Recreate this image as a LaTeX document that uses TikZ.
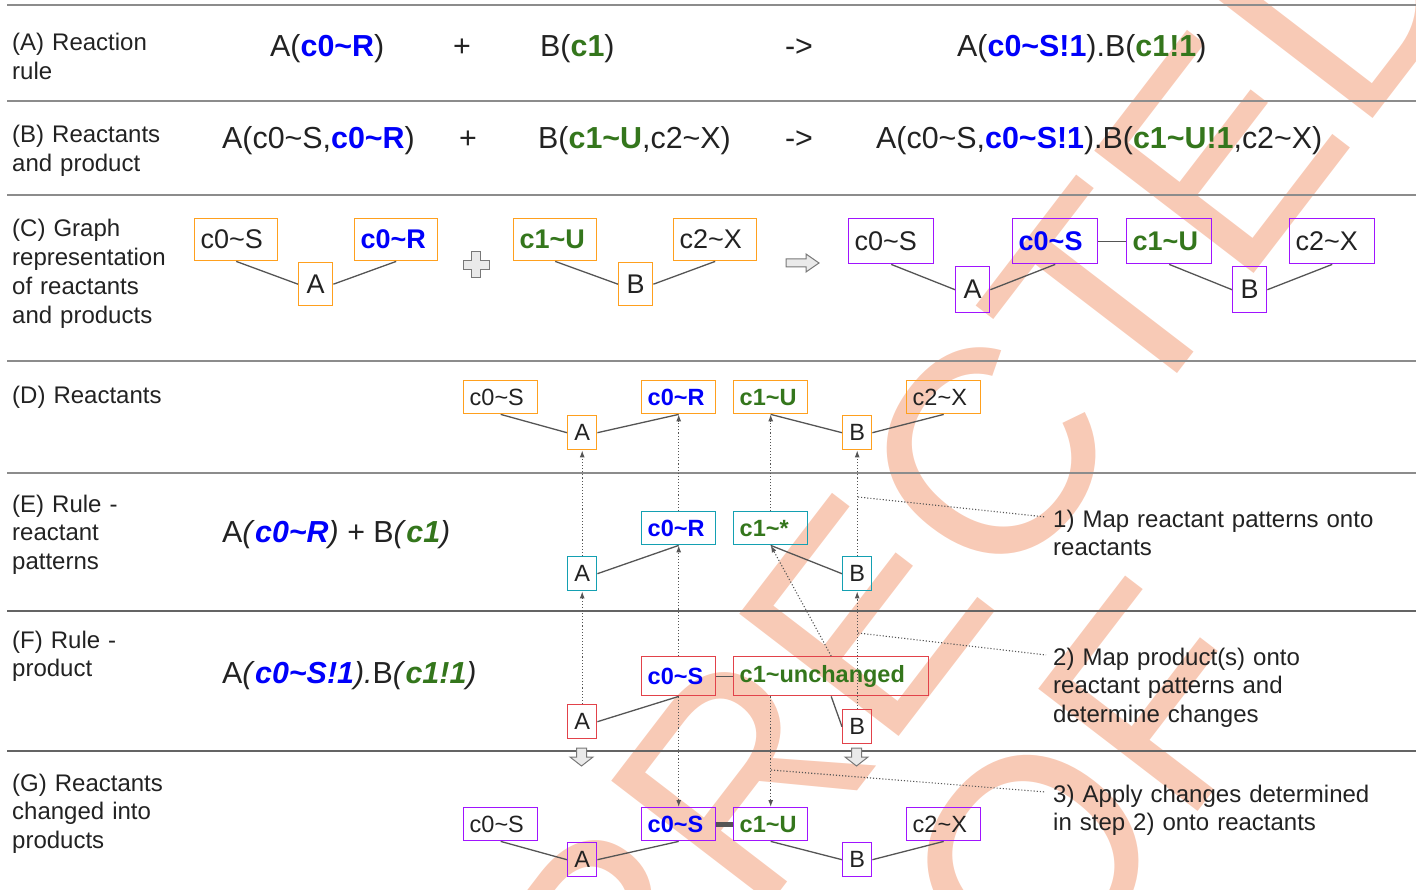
\documentclass[tikz,border=0pt]{standalone}
\usepackage{fontspec}
\setmainfont{Liberation Sans}
\usetikzlibrary{arrows.meta,calc}

\definecolor{ink}{RGB}{34,34,34}
\definecolor{rulelt}{RGB}{140,140,140}
\definecolor{ruledk}{RGB}{100,100,100}
\definecolor{link}{RGB}{85,85,85}
\definecolor{cblue}{RGB}{0,0,250}
\definecolor{cgreen}{RGB}{52,118,28}
\definecolor{borange}{RGB}{255,160,30}
\definecolor{bteal}{RGB}{20,160,178}
\definecolor{bred}{RGB}{226,66,74}
\definecolor{bpurple}{RGB}{160,20,255}
\definecolor{stamp}{RGB}{248,202,182}
\definecolor{shapefill}{RGB}{234,234,234}
\definecolor{shapeline}{RGB}{120,120,120}

\newcommand{\tld}{\textasciitilde}
\newcommand{\blu}[1]{\textcolor{cblue}{\bfseries #1}}
\newcommand{\grn}[1]{\textcolor{cgreen}{\bfseries #1}}
\newcommand{\bluit}[1]{\textcolor{cblue}{\bfseries\itshape #1}}
\newcommand{\grnit}[1]{\textcolor{cgreen}{\bfseries\itshape #1}}

\tikzset{
  lbl/.style={anchor=base west, inner sep=0pt, text width=300pt, align=left, text=ink,
              font=\fontsize{24}{28.7}\selectfont},
  formula/.style={anchor=base west, inner sep=0pt, text=ink, font=\fontsize{30.4}{36}\selectfont},
  op/.style={anchor=base, inner sep=0pt, text=ink, font=\fontsize{30.4}{36}\selectfont},
  comp/.style n args={3}{draw=#1, line width=1.4pt, anchor=north west,
       minimum height=#3, inner xsep=6pt, inner ysep=0pt, text width=#2pt-12pt,
       align=left, text=ink},
  mol/.style n args={3}{draw=#1, line width=1.4pt, anchor=north west,
       minimum width=#2, minimum height=#3, inner sep=0pt, text=ink},
  big/.style={font=\fontsize{27}{32}\selectfont},
  small/.style={font=\fontsize{23.5}{28}\selectfont},
  bond/.style={draw=link, line width=1.3pt},
  map/.style={draw=link, line width=1.1pt, dotted, -{Latex[length=7pt,width=5pt]}},
  callout/.style={draw=link, line width=1.1pt, dotted},
  hollow/.style={fill=shapefill, draw=shapeline, line width=1pt, line join=miter},
  sep/.style={line width=2pt},
  wm/.style={text=stamp, inner sep=0pt, rotate=52.5, font=\fontsize{292}{292}\selectfont},
  downblk/.pic={\draw[hollow] (-5,0) -- (5,0) -- (5,9) -- (11.5,9) -- (0,18) -- (-11.5,9) -- (-5,9) -- cycle;}
}

\begin{document}
\begin{tikzpicture}[x=1pt,y=-1pt]
\useasboundingbox (0,0) rectangle (1416,890);

% proof stamp behind everything
\begin{scope}
  \clip (0,0) rectangle (1416,890);
  \node[wm] (stampA) at (716,810) {UNCORRECTED};
  \node[wm] (stampB) at (896,1040) {PROOF};
\end{scope}

% row separators
\foreach \yy/\cc in {5/rulelt,101/rulelt,195/rulelt,361/rulelt,473/rulelt,611/ruledk,751/ruledk}
  \draw[sep, draw=\cc] (7,\yy) -- (1416,\yy);

% row captions
\node[lbl] (labA) at (12,51) {(A) Reaction\\rule};
\node[lbl] (labB) at (12,143) {(B) Reactants\\and product};
\node[lbl] (labC) at (12,237) {(C) Graph\\representation\\of reactants\\and products};
\node[lbl] (labD) at (12,403) {(D) Reactants};
\node[lbl] (labE) at (12,512) {(E) Rule -\\reactant\\patterns};
\node[lbl] (labF) at (12,648) {(F) Rule -\\product};
\node[lbl] (labG) at (12,791) {(G) Reactants\\changed into\\products};

% (A) reaction rule
\node[formula] (a1) at (270,57) {A(\blu{c0\tld R})};
\node[op] (a2) at (462,57) {+};
\node[formula] (a3) at (540,57) {B(\grn{c1})};
\node[op] (a4) at (799,57) {->};
\node[formula] (a5) at (957,57) {A(\blu{c0\tld S!1}).B(\grn{c1!1})};

% (B) reactants and product
\node[formula] (b1) at (222,149) {A(c0\tld S,\blu{c0\tld R})};
\node[op] (b2) at (468,149) {+};
\node[formula] (b3) at (538,149) {B(\grn{c1\tld U},c2\tld X)};
\node[op] (b4) at (799,149) {->};
\node[formula] (b5) at (876,149) {A(c0\tld S,\blu{c0\tld S!1}).B(\grn{c1\tld U!1},c2\tld X)};

% (C) graphs of reactants
\node[comp={borange}{83}{42}, big] (cS) at (194,218) {c0\tld S};
\node[mol={borange}{34}{43}, big] (cA) at (298,262) {A};
\node[comp={borange}{83}{42}, big] (cR) at (354,218) {\blu{c0\tld R}};
\node[comp={borange}{83}{42}, big] (cU) at (513,218) {\grn{c1\tld U}};
\node[mol={borange}{34}{43}, big] (cB) at (618,262) {B};
\node[comp={borange}{83}{42}, big] (cX) at (673,218) {c2\tld X};
\draw[bond] (cS.south) -- (cA.west);
\draw[bond] (cA.east) -- (cR.south);
\draw[bond] (cU.south) -- (cB.west);
\draw[bond] (cB.east) -- (cX.south);

% hollow plus
\begin{scope}[shift={(476,265)}]
  \draw[hollow] (-4.5,-13) -- (4.5,-13) -- (4.5,-4.5) -- (13,-4.5) -- (13,4.5) -- (4.5,4.5)
    -- (4.5,13) -- (-4.5,13) -- (-4.5,4.5) -- (-13,4.5) -- (-13,-4.5) -- (-4.5,-4.5) -- cycle;
\end{scope}
% hollow right arrow
\begin{scope}[shift={(786,263)}]
  \draw[hollow] (0,-4) -- (20,-4) -- (20,-9) -- (33,0) -- (20,9) -- (20,4) -- (0,4) -- cycle;
\end{scope}

% (C) graph of product
\node[comp={bpurple}{85}{45}, big] (pS) at (848,218) {c0\tld S};
\node[mol={bpurple}{34}{46}, big] (pA) at (955,266) {A};
\node[comp={bpurple}{85}{45}, big] (pS1) at (1012,218) {\blu{c0\tld S}};
\node[comp={bpurple}{85}{45}, big] (pU) at (1126,218) {\grn{c1\tld U}};
\node[mol={bpurple}{34}{46}, big] (pB) at (1232,266) {B};
\node[comp={bpurple}{85}{45}, big] (pX) at (1289,218) {c2\tld X};
\draw[bond] (pS.south) -- (pA.west);
\draw[bond] (pA.east) -- (pS1.south);
\draw[bond] (pS1.east) -- (pU.west);
\draw[bond] (pU.south) -- (pB.west);
\draw[bond] (pB.east) -- (pX.south);

% (D) reactants
\node[comp={borange}{74}{33}, small] (dS) at (463,380) {c0\tld S};
\node[mol={borange}{29}{34}, small] (dA) at (567,415) {A};
\node[comp={borange}{74}{33}, small] (dR) at (641,380) {\blu{c0\tld R}};
\node[comp={borange}{74}{33}, small] (dU) at (733,380) {\grn{c1\tld U}};
\node[mol={borange}{29}{34}, small] (dB) at (842,415) {B};
\node[comp={borange}{74}{33}, small] (dX) at (906,380) {c2\tld X};
\draw[bond] (dS.south) -- (dA.west);
\draw[bond] (dA.east) -- (dR.south);
\draw[bond] (dU.south) -- (dB.west);
\draw[bond] (dB.east) -- (dX.south);

% (E) reactant patterns
\node[formula] (e0) at (222,542) {A\textit{(}\bluit{c0\tld R}\textit{)} + B\textit{(}\grnit{c1}\textit{)}};
\node[comp={bteal}{74}{33}, small] (eR) at (641,511) {\blu{c0\tld R}};
\node[comp={bteal}{74}{33}, small] (eU) at (733,511) {\grn{c1\tld *}};
\node[mol={bteal}{29}{34}, small] (eA) at (567,556) {A};
\node[mol={bteal}{29}{34}, small] (eB) at (842,556) {B};
\draw[bond] (eA.east) -- (eR.south);
\draw[bond] (eB.west) -- (eU.south);

% (F) rule product
\node[formula] (f0) at (222,683) {A\textit{(}\bluit{c0\tld S!1}\textit{).}B\textit{(}\grnit{c1!1}\textit{)}};
\node[comp={bred}{74}{39}, small] (fS) at (641,656) {\blu{c0\tld S}};
\node[comp={bred}{195}{39}, small] (fU) at (733,656) {\grn{c1\tld unchanged}};
\node[mol={bred}{29}{34}, small] (fA) at (567,704) {A};
\node[mol={bred}{29}{34}, small] (fB) at (842,709) {B};
\draw[bond] (fA.east) -- (fS.south);
\draw[bond] (fS.east) -- (fU.west);
\draw[bond] (fB.west) -- (fU.south);

% transition arrows
\pic at (581.5,748) {downblk};
\pic at (856.5,748) {downblk};

% (G) products
\node[comp={bpurple}{74}{33}, small] (gS) at (463,807) {c0\tld S};
\node[mol={bpurple}{29}{34}, small] (gA) at (567,842) {A};
\node[comp={bpurple}{74}{33}, small] (gS1) at (641,807) {\blu{c0\tld S}};
\node[comp={bpurple}{74}{33}, small] (gU) at (733,807) {\grn{c1\tld U}};
\node[mol={bpurple}{29}{34}, small] (gB) at (842,842) {B};
\node[comp={bpurple}{74}{33}, small] (gX) at (906,807) {c2\tld X};
\draw[bond] (gS.south) -- (gA.west);
\draw[bond] (gA.east) -- (gS1.south);
\draw[bond] (gU.south) -- (gB.west);
\draw[bond] (gB.east) -- (gX.south);
\draw[draw=link, line width=5pt] (gS1.east) -- (gU.west);

% mappings
\draw[map] (eA.north) -- (dA.south);
\draw[map] (fA.north) -- (eA.south);
\draw[map] (eR.north) -- (dR.south);
\draw[map] (fS.north) -- (eR.south);
\draw[map] (fS.south) -- (gS1.north);
\draw[map] (eU.north) -- (dU.south);
\draw[map] (fU.north) -- (eU.south);
\draw[map] (gU.north |- fU.south) -- (gU.north);
\draw[map] (eB.north) -- (dB.south);
\draw[map] (fB.north) -- (eB.south);

% step notes
\coordinate (k1) at (858,497);
\coordinate (k2) at (858,633);
\coordinate (k3) at (771,770);
\node[lbl, text width=360pt] (n1) at (1053,527) {1) Map reactant patterns onto\\reactants};
\node[lbl, text width=360pt] (n2) at (1053,665) {2) Map product(s) onto\\reactant patterns and\\determine changes};
\node[lbl, text width=360pt] (n3) at (1053,802) {3) Apply changes determined\\in step 2) onto reactants};
\draw[callout] (k1) -- ([shift={(-7,-10)}]n1.base west);
\draw[callout] (k2) -- ([shift={(-7,-10)}]n2.base west);
\draw[callout] (k3) -- ([shift={(-7,-10)}]n3.base west);

\end{tikzpicture}
\end{document}
